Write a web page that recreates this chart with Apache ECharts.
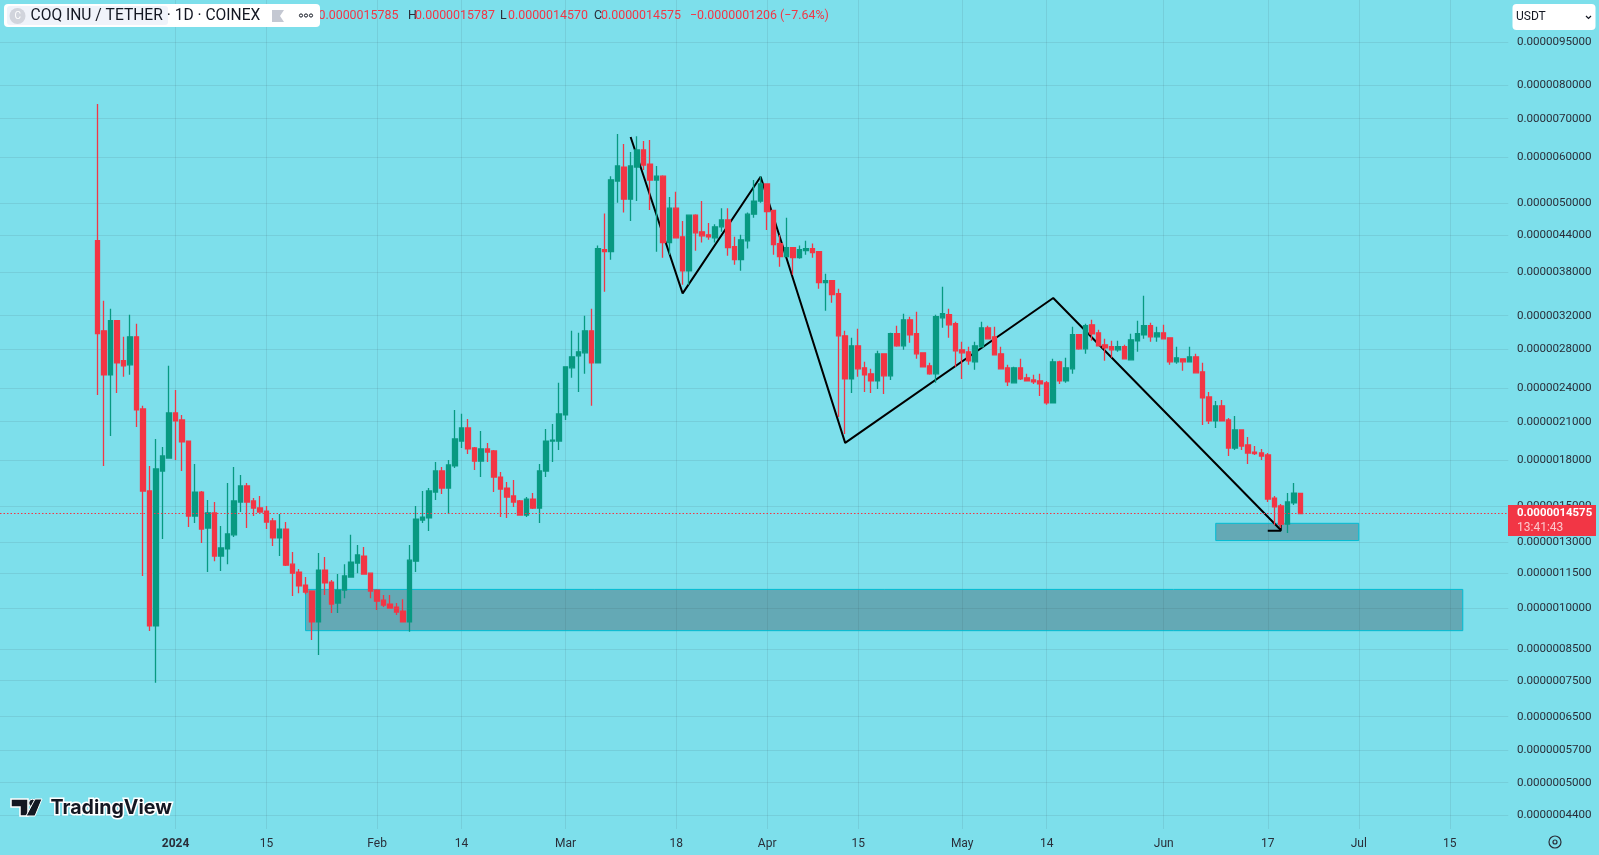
<!DOCTYPE html>
<html><head><meta charset="utf-8">
<script src="https://cdn.jsdelivr.net/npm/echarts@6/dist/echarts.min.js"></script>
<style>html,body{margin:0;padding:0;background:#7DDFEB}#c{width:1599px;height:855px}</style>
</head><body><div id="c"></div>
<script>
// All prices are in units of 1e-9 USDT
const firstCandleDate = '2023-12-20';
const opens = [
4312,3013,2530,3136,2675,2632,2942,2209,1594,933,1726,1817,
2174,2114,1944,1443,1587,1376,1461,1231,1266,1339,
1526,1626,1532,1490,1472,1415,1323,1370,1192,1155,
1097,1071,948,1164,1110,1021,1075,1132,1197,1231,
1150,1075,1033,1017,1005,989,948,1206,1420,1432,
1587,1726,1613,1761,1944,2048,1891,1796,1884,1869,
1685,1613,1563,1532,1449,1544,1490,1726,1944,1944,
2157,2601,2728,2761,3013,2654,4160,4127,5465,5776,
5085,5776,6181,5846,5487,5570,4278,4905,4378,3825,
4770,4466,4413,4360,4555,4680,4210,3997,4308,4790,
5045,5400,4860,4261,4046,4193,4030,4143,4177,4127,
3648,3676,3492,2954,2489,2839,2601,2540,2469,2750,
2519,2978,2839,3148,2978,2761,2622,2540,3173,3212,
3099,2794,2772,2664,2828,3049,2942,2750,2601,2450,
2601,2499,2479,2469,2450,2262,2664,2469,2590,2966,
2805,3086,2989,2850,2828,2794,2828,2685,2896,2966,
3074,2942,2989,2930,2664,2696,2664,2717,2560,2317,
2106,2236,2114,1891,2032,1914,1861,1854,1840,1550,
1502,1398,1520,1578.5];
const closes = [
2981,2530,3136,2654,2622,2942,2200,1594,933,1740,1832,2174,
2106,1937,1443,1587,1370,1461,1231,1271,1344,1532,
1626,1526,1490,1466,1409,1323,1370,1187,1150,1093,
1067,948,1164,1106,1017,1075,1137,1202,1236,1146,
1071,1029,1013,1001,985,948,1211,1426,1437,1594,
1726,1613,1768,1960,2048,1884,1796,1884,1861,1685,
1606,1556,1526,1449,1544,1490,1726,1944,1952,2165,
2611,2717,2772,3013,2654,4177,4127,5490,5800,5085,
5800,6181,5823,5487,5570,4278,4905,4360,3825,4770,
4448,4395,4378,4555,4680,4193,3997,4325,4790,5045,
5400,4840,4245,4046,4193,4030,4160,4177,4110,3648,
3676,3478,2954,2489,2839,2590,2530,2469,2750,2519,
2978,2839,3148,2966,2750,2611,2540,3186,3225,3086,
2783,2761,2675,2839,3049,2919,2739,2590,2459,2601,
2489,2469,2459,2440,2262,2664,2469,2601,2966,2805,
3074,2978,2839,2817,2794,2828,2696,2907,2978,3074,
2942,2989,2919,2664,2706,2664,2717,2550,2308,2106,
2236,2106,1891,2032,1906,1854,1850,1832,1544,1496,
1398,1526,1581,1457.5];
const lows = [
2335,1761,1984,2354,2509,2530,2056,1137,914,744,1317,1817,
1803,1726,1381,1403,1297,1155,1206,1160,1192,1328,
1466,1376,1443,1466,1370,1281,1231,1183,1050,1062,
1058,882,831,1054,982,982,1041,1132,1150,1146,
1041,993,1005,1001,974,948,911,1155,1403,1360,
1538,1575,1455,1747,1891,1847,1733,1685,1789,1587,
1437,1432,1496,1449,1437,1484,1403,1685,1789,1876,
2114,2499,2363,2540,2236,2654,3519,3997,5010,4820,
4660,5045,5709,4870,4127,4030,4078,4360,3618,3618,
4143,4278,4325,4278,4466,4062,3919,3825,4177,4720,
5010,4500,4078,3888,4046,3765,4013,4078,4030,3561,
3263,3369,2139,2000,2354,2509,2363,2354,2391,2345,
2479,2828,2794,2873,2696,2611,2530,2450,3049,2930,
2611,2489,2632,2580,2828,2919,2739,2590,2420,2450,
2479,2469,2440,2326,2245,2262,2440,2450,2540,2794,
2750,2896,2839,2675,2706,2772,2696,2685,2772,2919,
2884,2884,2919,2632,2643,2570,2664,2550,2073,2081,
2048,2106,1832,1876,1876,1775,1840,1803,1526,1392,
1376,1349,1508,1457];
const highs = [
7424,3396,3289,3136,2942,3212,3099,2236,1761,1960,1899,2622,
2382,2157,1944,1775,1594,1538,1526,1387,1645,1754,
1699,1645,1550,1563,1502,1432,1455,1409,1251,1169,
1132,1071,1246,1226,1119,1146,1192,1339,1286,1276,
1150,1079,1054,1054,1021,1037,1286,1502,1594,1613,
1789,1754,1803,2200,2166,2123,1899,2024,1929,1876,
1719,1652,1665,1538,1556,1581,1775,2040,2081,2450,
2611,3013,2989,3199,3289,4228,4802,5570,6590,6330,
6130,6530,6407,6432,5800,5590,5130,5235,4660,4770,
4790,5045,4623,4600,4905,4905,4378,4413,4820,5487,
5570,5400,4860,4413,4720,4193,4228,4308,4261,4127,
3780,3676,3561,3013,2930,3037,2664,2590,2783,2750,
2989,3074,3225,3186,3250,2761,2654,3212,3590,3289,
3123,2884,2828,2884,3123,3074,3061,2828,2632,2611,
2696,2540,2530,2540,2469,2696,2675,2706,3061,2966,
3099,3148,3025,2919,2896,2896,2850,2978,3136,3462,
3111,3061,3086,2930,2828,2696,2828,2750,2654,2363,
2280,2289,2131,2148,2032,1976,1906,1884,1854,1563,
1514,1581,1645,1578.7];

const priceTicks = [9500,8000,7000,6000,5000,4400,3800,3200,2800,2400,2100,1800,1500,1300,1150,1000,850,750,650,570,500,440];
const timeTickDates = ['2024-01-01','2024-01-15','2024-02-01','2024-02-14','2024-03-01','2024-03-18','2024-04-01','2024-04-15','2024-05-01','2024-05-14','2024-06-01','2024-06-17','2024-07-01','2024-07-15'];
const timeTickLabels = ['2024','15','Feb','14','Mar','18','Apr','15','May','14','Jun','17','Jul','15'];
const lastPrice = 1457.5;
const zigzag = [['2024-03-11',6509],['2024-03-19',3497],['2024-03-31',5559],['2024-04-13',1930],['2024-05-15',3433],['2024-06-19',1365]];
const arrowHead = [['2024-06-17',1361],['2024-06-19',1361],['2024-06-19',1392]];
const zones = [[['2024-01-21',1078],['2024-07-17',915]],[['2024-06-09',1402],['2024-07-01',1309]]];

const categories = [];
for (let t = Date.UTC(2023,11,5), i = 0; i < 233; i++, t += 86400000) categories.push(new Date(t).toISOString().slice(0,10));
const pad = categories.indexOf(firstCandleDate);
const candles = [];
for (let i = 0; i < pad; i++) candles.push(['-','-','-','-']);
opens.forEach((o,i)=>candles.push([o,closes[i],lows[i],highs[i]]));

const BG='#7DDFEB', UP='#089981', DOWN='#F23645', INK='#2A2E39', GRID='rgba(42,46,57,0.09)';
const FONT='Roboto, "Liberation Sans", sans-serif';
const isTick = (i,v)=>timeTickDates.includes(v);
const txt=(x,y,t,fill,size,extra)=>({type:'text',x,y,style:Object.assign({text:t,fill,font:`${size}px ${FONT}`,textVerticalAlign:'middle'},extra||{})});
const legendY=16;

const chart = echarts.init(document.getElementById('c'),null,{renderer:'canvas'});
chart.setOption({
  animation:false,
  backgroundColor:BG,
  grid:{left:-2,top:0,width:1510.3,height:829,containLabel:false},
  xAxis:{type:'category',data:categories,boundaryGap:false,
    axisLine:{show:false},axisTick:{show:false},
    splitLine:{show:true,interval:isTick,lineStyle:{color:GRID,width:1}},
    axisLabel:{interval:isTick,margin:9,color:INK,fontSize:12,fontFamily:FONT,
      formatter:v=>{const l=timeTickLabels[timeTickDates.indexOf(v)];return l==='2024'?'{b|2024}':l;},
      rich:{b:{fontWeight:'bold',fontSize:12,color:INK,fontFamily:FONT}}}},
  yAxis:{type:'log',logBase:10,min:416,max:11220,position:'right',
    axisLine:{show:false},
    axisTick:{show:false,customValues:priceTicks},
    splitLine:{show:true,lineStyle:{color:GRID,width:1}},
    minorSplitLine:{show:false},
    axisLabel:{customValues:priceTicks,margin:8.6,color:INK,fontSize:11.6,fontFamily:FONT,
      formatter:v=>(v/1e9).toFixed(10)}},
  series:[
    {type:'line',z:1,data:zigzag,symbol:'none',silent:true,lineStyle:{color:'#000',width:2}},
    {type:'line',z:1,data:arrowHead,symbol:'none',silent:true,lineStyle:{color:'#000',width:2}},
    {type:'candlestick',z:2,data:candles,barWidth:5,silent:true,
      itemStyle:{color:UP,color0:DOWN,borderColor:UP,borderColor0:DOWN,borderWidth:1.3},
      markArea:{silent:true,z:1,
        itemStyle:{color:'rgba(42,46,57,0.3)',borderColor:'#00BCD4',borderWidth:1},
        data:zones.map(z=>[{coord:z[0]},{coord:z[1]}])},
      markLine:{silent:true,symbol:'none',label:{show:false},
        lineStyle:{color:DOWN,type:[1.5,2],width:1},
        data:[{yAxis:lastPrice}]}}
  ],
  graphic:{elements:[
    txt(318.5,legendY,'0.0000015785',DOWN,12.4),
    txt(408,legendY,'H',INK,12.4),txt(415,legendY,'0.0000015787',DOWN,12.4),
    txt(500,legendY,'L',INK,12.4),txt(508,legendY,'0.0000014570',DOWN,12.4),
    txt(594,legendY,'C',INK,12.4),txt(601,legendY,'0.0000014575',DOWN,12.4),
    txt(690,legendY,'\u22120.0000001206',DOWN,12.4),
    txt(780,legendY,'(\u22127.64%)',DOWN,12.4),
    {type:'rect',shape:{x:4,y:4,width:316,height:23,r:4},style:{fill:'#fff'},z:10},
    {type:'rect',shape:{x:7,y:6,width:161,height:19,r:3},style:{fill:'#F0F3FA'},z:10},
    {type:'circle',shape:{cx:17.5,cy:16,r:8},style:{fill:'#D1D4DC'},z:11},
    Object.assign(txt(14.5,16,'C','#fff',10),{z:12}),
    Object.assign(txt(30.5,16,'COQ INU / TETHER \u00B7 1D \u00B7 COINEX','#131722',15.6),{z:12}),
    {type:'polygon',shape:{points:[[272,10],[284,10],[280,16],[284,22],[272,22]]},style:{fill:'#C4C8D2'},z:11},
    {type:'circle',shape:{cx:301,cy:15.5,r:1.6},style:{fill:'none',stroke:'#131722',lineWidth:1},z:11},
    {type:'circle',shape:{cx:306,cy:15.5,r:1.6},style:{fill:'none',stroke:'#131722',lineWidth:1},z:11},
    {type:'circle',shape:{cx:311,cy:15.5,r:1.6},style:{fill:'none',stroke:'#131722',lineWidth:1},z:11},
    {type:'rect',shape:{x:1512.5,y:4,width:83,height:26,r:4},style:{fill:'#fff'},z:10},
    Object.assign(txt(1516,17,'USDT','#131722',12),{z:11}),
    {type:'polyline',shape:{points:[[1586,16],[1588.5,18.5],[1591,16]]},style:{stroke:'#131722',lineWidth:1.2,fill:'none'},z:11},
    {type:'rect',shape:{x:1508,y:505,width:88,height:31},style:{fill:DOWN},z:10},
    Object.assign(txt(1517,513,'0.0000014575','#fff',11.4,{font:`bold 11.4px ${FONT}`}),{z:11}),
    Object.assign(txt(1517,527.5,'13:41:43','rgba(255,255,255,0.72)',12),{z:11}),
    {type:'polygon',shape:{points:[[11,799],[28,799],[28,816],[20,816],[20,807],[11,807]]},style:{fill:'#131722',stroke:'#fff',lineWidth:1.5},z:11},
    {type:'circle',shape:{cx:32.5,cy:803,r:3.8},style:{fill:'#131722',stroke:'#fff',lineWidth:1},z:11},
    {type:'polygon',shape:{points:[[35,799],[42,799],[35,816],[26,816]]},style:{fill:'#131722',stroke:'#fff',lineWidth:1},z:11},
    Object.assign(txt(50.5,808,'TradingView','#131722',19.6,{font:`700 19.6px Inter, ${FONT}`,stroke:'#fff',lineWidth:3}),{z:11}),
    {type:'circle',shape:{cx:1555,cy:842,r:6},style:{fill:'none',stroke:INK,lineWidth:1.2},z:11},
    {type:'circle',shape:{cx:1555,cy:842,r:2},style:{fill:'none',stroke:INK,lineWidth:1.2},z:11}
  ]}
});
</script></body></html>
